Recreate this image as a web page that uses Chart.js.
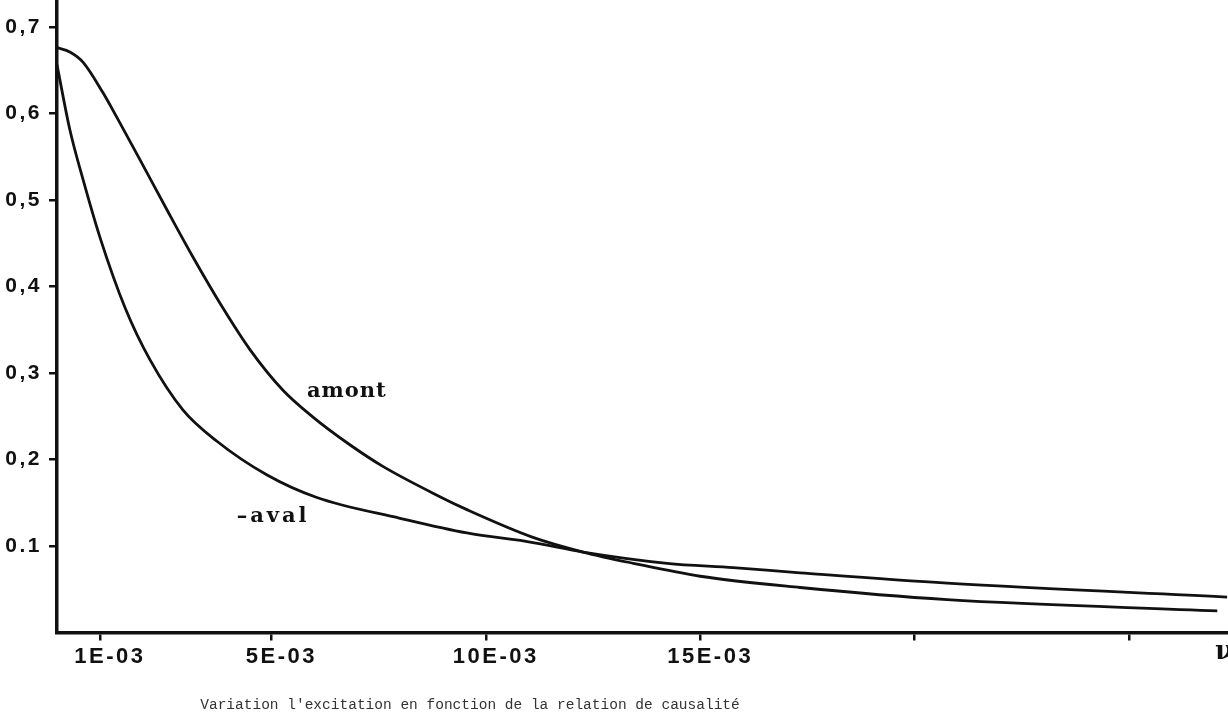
<!DOCTYPE html>
<html>
<head>
<meta charset="utf-8">
<script src="https://cdn.jsdelivr.net/npm/chart.js@4"></script>
<style>
  html, body { margin: 0; padding: 0; background: #fff; }
  #wrap { width: 1228px; height: 716px; position: relative; }
</style>
</head>
<body>
<div id="wrap"><canvas id="chart"></canvas></div>
<script>
// x values are in units of 1E-03
const xAmont = [0, 0.30, 0.61, 1.07, 1.40, 1.94, 2.57, 3.17, 3.87, 4.50, 5.27, 5.97, 6.83, 7.60, 8.93, 9.56, 11.10, 12.27, 13.44, 15.00, 17.33, 20.76, 27.06];
const yAmont = [0.676, 0.671, 0.659, 0.624, 0.595, 0.546, 0.488, 0.434, 0.375, 0.327, 0.280, 0.249, 0.217, 0.192, 0.157, 0.142, 0.110, 0.093, 0.080, 0.065, 0.052, 0.038, 0.025];

const xAval = [0, 0.30, 0.61, 1.00, 1.59, 2.17, 2.94, 3.73, 4.90, 6.06, 8.00, 9.56, 11.10, 12.27, 14.23, 15.77, 17.33, 20.76, 27.29];
const yAval = [0.656, 0.581, 0.523, 0.457, 0.375, 0.315, 0.257, 0.221, 0.182, 0.156, 0.132, 0.115, 0.104, 0.093, 0.080, 0.075, 0.069, 0.057, 0.041];

const xTicks = [1, 5, 10, 15, 20, 25];
const xTickLabels = ['1E-03', '5E-03', '10E-03', '15E-03', '', ''];
const yTicks = [0.1, 0.2, 0.3, 0.4, 0.5, 0.6, 0.7];
const yTickLabels = ['0.1', '0,2', '0,3', '0,4', '0,5', '0,6', '0,7'];

const seriesNames = ['amont', '–aval'];
const caption = "Variation l'excitation en fonction de la relation de causalité";

function toPoints(xs, ys) {
    return xs.map((x, i) => ({x: x, y: ys[i]}));
}

const ink = '#111';

// curve names, axis end symbol and caption
const textPlugin = {
    id: 'texts',
    afterDraw(chart) {
        const ctx = chart.ctx;
        const xs = chart.scales.x;
        const ys = chart.scales.y;
        ctx.save();
        ctx.fillStyle = ink;
        ctx.textAlign = 'center';
        ctx.textBaseline = 'middle';
        ctx.font = 'bold 21px "DejaVu Serif"';
        ctx.letterSpacing = '1px';
        ctx.fillText(seriesNames[0], xs.getPixelForValue(6.76), ys.getPixelForValue(0.278));
        ctx.letterSpacing = '3px';
        ctx.fillText(seriesNames[1], xs.getPixelForValue(5.04), ys.getPixelForValue(0.134));

        ctx.letterSpacing = '0px';
        ctx.font = 'bold 26px "DejaVu Serif"';
        ctx.fillText('ν', xs.right - 4, chart.chartArea.bottom + 20);

        ctx.font = '14.5px "Liberation Mono"';
        ctx.fillStyle = '#333';
        ctx.fillText(caption, 470, 705);
        ctx.restore();
    }
};

// wide spacing of the typed tick labels
const spacingPlugin = {
    id: 'spacing',
    beforeDraw(chart) { chart.ctx.letterSpacing = '2.5px'; },
    afterDraw(chart) { chart.ctx.letterSpacing = '0px'; }
};

const ctx = document.getElementById('chart').getContext('2d');

const chart = new Chart(ctx, {
    type: 'line',
    data: {
        datasets: [{
            label: seriesNames[0],
            data: toPoints(xAmont, yAmont),
            borderColor: ink,
            borderWidth: 2.8,
            fill: false,
            cubicInterpolationMode: 'monotone',
            pointRadius: 0
        }, {
            label: seriesNames[1],
            data: toPoints(xAval, yAval),
            borderColor: ink,
            borderWidth: 2.8,
            fill: false,
            cubicInterpolationMode: 'monotone',
            pointRadius: 0
        }]
    },
    options: {
        responsive: true,
        maintainAspectRatio: false,
        animation: false,
        layout: {
            padding: 0
        },
        plugins: {
            legend: {
                display: false
            },
            tooltip: {
                enabled: false
            }
        },
        scales: {
            x: {
                type: 'linear',
                min: 0,
                max: 27.31,
                afterFit: (s) => {
                    s.height = 83.5;
                    s.paddingLeft = 0;
                    s.paddingRight = 0;
                },
                afterBuildTicks: (s) => { s.ticks = xTicks.map(v => ({value: v})); },
                border: {
                    display: true,
                    color: ink,
                    width: 3.5
                },
                grid: {
                    drawOnChartArea: false,
                    drawTicks: true,
                    tickLength: 8,
                    color: ink,
                    lineWidth: 2.5
                },
                ticks: {
                    autoSkip: false,
                    maxRotation: 0,
                    padding: 3,
                    labelOffset: 10,
                    color: ink,
                    font: {family: '"Liberation Sans"', size: 22, weight: 'bold'},
                    callback: (v) => xTickLabels[xTicks.indexOf(v)]
                }
            },
            y: {
                min: 0,
                max: 0.731,
                afterFit: (s) => {
                    s.width = 57;
                    s.paddingTop = 0;
                    s.paddingBottom = 0;
                },
                afterBuildTicks: (s) => { s.ticks = yTicks.map(v => ({value: v})); },
                border: {
                    display: true,
                    color: ink,
                    width: 3.5
                },
                grid: {
                    drawOnChartArea: false,
                    drawTicks: true,
                    tickLength: 8,
                    color: ink,
                    lineWidth: 2.5
                },
                ticks: {
                    autoSkip: false,
                    padding: 7,
                    color: ink,
                    font: {family: '"Liberation Sans"', size: 21, weight: 'bold'},
                    callback: (v) => yTickLabels[yTicks.findIndex(t => Math.abs(t - v) < 1e-6)]
                }
            }
        }
    },
    plugins: [spacingPlugin, textPlugin]
});
</script>
</body>
</html>
